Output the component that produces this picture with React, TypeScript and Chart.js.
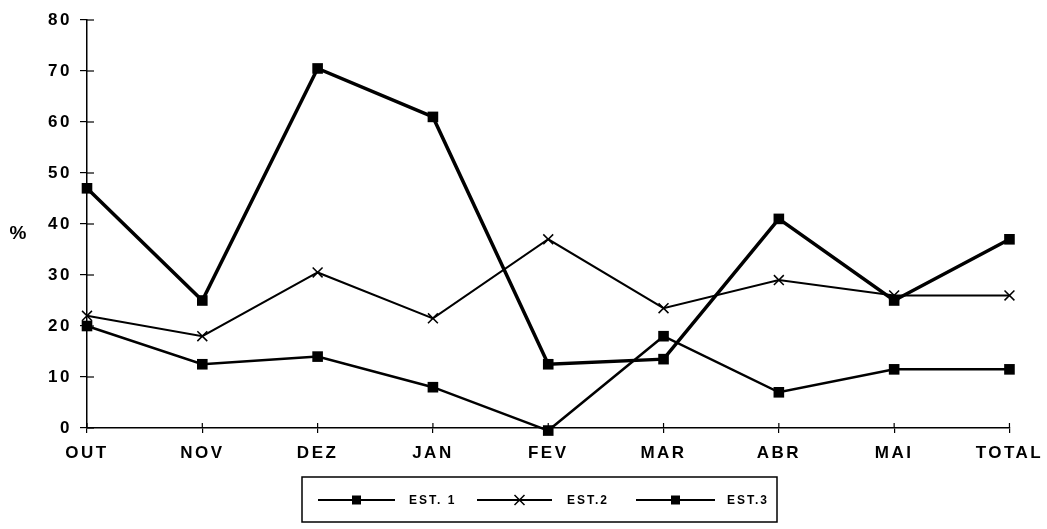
import React, { useEffect, useRef } from "react";
import { Chart, registerables } from "chart.js";

Chart.register(...registerables);

const categories = ["OUT", "NOV", "DEZ", "JAN", "FEV", "MAR", "ABR", "MAI", "TOTAL"];
const est1 = [20, 12.5, 14, 8, -0.5, 18, 7, 11.5, 11.5];
const est2 = [22, 18, 30.5, 21.5, 37, 23.5, 29, 26, 26];
const est3 = [47, 25, 70.5, 61, 12.5, 13.5, 41, 25, 37];
const seriesLabels = ["EST. 1", "EST.2", "EST.3"];
const yTickValues = [0, 10, 20, 30, 40, 50, 60, 70, 80];
const yAxisLabel = "%";

const FONT = '"Liberation Sans", Arial, Helvetica, sans-serif';

const decorPlugin = {
  id: "decor",
  beforeDraw(chart: any) {
    chart.ctx.letterSpacing = "2.5px";
  },
  afterDraw(chart: any) {
    const ctx = chart.ctx;
    const area = chart.chartArea;
    const xs = chart.scales.x;
    const ys = chart.scales.y;
    ctx.save();
    ctx.letterSpacing = "0px";
    ctx.strokeStyle = "#000";
    ctx.lineWidth = 1.2;
    // inner tick marks (crossing the axes)
    categories.forEach((_, i) => {
      const x = xs.getPixelForValue(i);
      ctx.beginPath();
      ctx.moveTo(x, area.bottom);
      ctx.lineTo(x, area.bottom - 5);
      ctx.stroke();
    });
    yTickValues.forEach((v) => {
      const y = ys.getPixelForValue(v);
      ctx.beginPath();
      ctx.moveTo(area.left, y);
      ctx.lineTo(area.left + 7, y);
      ctx.stroke();
    });
    // y-axis label
    ctx.fillStyle = "#000";
    ctx.font = `bold 19px ${FONT}`;
    ctx.textAlign = "center";
    ctx.textBaseline = "middle";
    ctx.fillText(yAxisLabel, 18, ys.getPixelForValue(38));

    // legend box
    const boxL = 302, boxT = 477, boxR = 777, boxB = 522;
    ctx.lineWidth = 1.5;
    ctx.strokeRect(boxL, boxT, boxR - boxL, boxB - boxT);
    const entries = [
      { a: 318, b: 395, t: 409 },
      { a: 477, b: 552, t: 567 },
      { a: 636, b: 715, t: 727 },
    ];
    const ly = 500;
    chart.data.datasets.forEach((ds: any, i: number) => {
      const e = entries[i];
      ctx.strokeStyle = "#000";
      ctx.lineWidth = 2;
      ctx.beginPath();
      ctx.moveTo(e.a, ly);
      ctx.lineTo(e.b, ly);
      ctx.stroke();
      const mx = (e.a + e.b) / 2 + (i === 1 ? 5 : 0);
      if (ds.pointStyle === "crossRot") {
        ctx.lineWidth = 1.5;
        ctx.beginPath();
        ctx.moveTo(mx - 5, ly - 5);
        ctx.lineTo(mx + 5, ly + 5);
        ctx.moveTo(mx - 5, ly + 5);
        ctx.lineTo(mx + 5, ly - 5);
        ctx.stroke();
      } else {
        ctx.fillStyle = "#000";
        ctx.fillRect(mx - 4.5, ly - 4.5, 9, 9);
      }
      ctx.fillStyle = "#000";
      ctx.font = `bold 12px ${FONT}`;
      ctx.letterSpacing = "2px";
      ctx.textAlign = "left";
      ctx.textBaseline = "middle";
      ctx.fillText(ds.label, e.t, ly + 1);
      ctx.letterSpacing = "0px";
    });
    ctx.restore();
  },
};

export default function App() {
  const canvasRef = useRef<HTMLCanvasElement | null>(null);

  useEffect(() => {
    const canvas = canvasRef.current;
    if (!canvas) return;
    const chart = new Chart(canvas, {
      type: "line",
      data: {
        labels: categories,
        datasets: [
          {
            label: seriesLabels[0],
            data: est1,
            borderColor: "#000",
            backgroundColor: "#000",
            borderWidth: 2.5,
            pointStyle: "rect",
            pointRadius: 7.5,
            pointBorderWidth: 0,
            tension: 0,
            clip: false as any,
          },
          {
            label: seriesLabels[1],
            data: est2,
            borderColor: "#000",
            backgroundColor: "#000",
            borderWidth: 2,
            pointStyle: "crossRot",
            pointRadius: 7,
            pointBorderWidth: 1.5,
            tension: 0,
            clip: false as any,
          },
          {
            label: seriesLabels[2],
            data: est3,
            borderColor: "#000",
            backgroundColor: "#000",
            borderWidth: 3.5,
            pointStyle: "rect",
            pointRadius: 7.5,
            pointBorderWidth: 0,
            tension: 0,
            clip: false as any,
          },
        ],
      },
      options: {
        responsive: false,
        animation: false,
        devicePixelRatio: 1,
        layout: { padding: { left: 0, right: 37, top: 20, bottom: 67 } },
        plugins: {
          legend: { display: false },
          tooltip: { enabled: false },
        },
        scales: {
          x: {
            offset: false,
            afterFit(scale: any) {
              scale.height = 34;
            },
            grid: {
              display: true,
              drawOnChartArea: false,
              drawTicks: true,
              tickLength: 5,
              color: "#000",
              lineWidth: 1.2,
            },
            border: { display: true, color: "#000", width: 1.5 },
            ticks: {
              color: "#000",
              autoSkip: false,
              maxRotation: 0,
              padding: 10,
              font: { family: FONT, size: 17, weight: "bold" },
            },
          },
          y: {
            min: 0,
            max: 80,
            afterFit(scale: any) {
              scale.width = 87;
            },
            afterBuildTicks(scale: any) {
              scale.ticks = yTickValues.map((v) => ({ value: v }));
            },
            grid: {
              display: true,
              drawOnChartArea: false,
              drawTicks: true,
              tickLength: 7,
              color: "#000",
              lineWidth: 1.2,
            },
            border: { display: true, color: "#000", width: 1.5 },
            ticks: {
              color: "#000",
              padding: 8,
              font: { family: FONT, size: 17, weight: "bold" },
            },
          },
        },
      },
      plugins: [decorPlugin],
    } as any);
    return () => chart.destroy();
  }, []);

  return (
    <div
      style={{
        position: "fixed",
        left: 0,
        top: 0,
        width: 1047,
        height: 529,
        background: "#fff",
      }}
    >
      <canvas ref={canvasRef} width={1047} height={529} />
    </div>
  );
}
